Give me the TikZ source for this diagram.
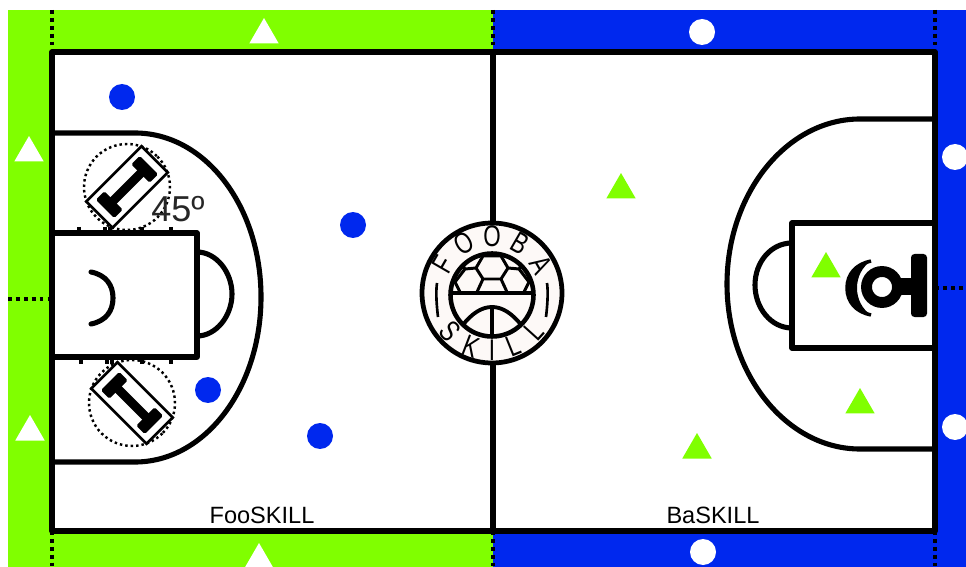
\documentclass[tikz,border=0pt]{standalone}
\usepackage{fontspec}
\setmainfont{Liberation Sans}
\usetikzlibrary{shapes.geometric}
\definecolor{fieldgreen}{HTML}{80FF00}
\definecolor{fieldblue}{HTML}{0028EE}
\definecolor{logofill}{HTML}{FDF9F7}
\tikzset{
  courtline/.style={line width=2.9pt,line join=round},
  boundline/.style={line width=2.2pt,dash pattern=on 2.2pt off 2.3pt},
  trianglepiece/.style={regular polygon,regular polygon sides=3,minimum size=0.68cm,inner sep=0pt,fill=#1},
  roundpiece/.style={circle,minimum size=0.52cm,inner sep=0pt,fill=#1},
  logoletter/.style={inner sep=0pt,font=\fontsize{17}{17}\selectfont},
  pics/robot/.style={code={
    \draw[line width=1.4pt,dash pattern=on 1.4pt off 1.7pt] (0,0) circle (43);
    \draw[line width=1.5pt,fill=white] (-39,-18.5) rectangle (39,18.5);
    \fill[rounded corners=1pt] (-24,-4.5) rectangle (24,4.5);
    \fill[rounded corners=1pt] (-31,-13) rectangle (-19,13);
    \fill[rounded corners=1pt] (19,-13) rectangle (31,13);
  }}
}
\begin{document}
\begin{tikzpicture}[x=0.02cm,y=-0.02cm]
  \useasboundingbox (0,0) rectangle (966,567);
  \clip (0,0) rectangle (966,567);
  \fill[fieldgreen] (8,10) rectangle (493,567);
  \fill[fieldblue] (493,10) rectangle (966,567);
  \fill[white] (52,52) rectangle (935,531);
  % court
  \draw[courtline] (52,52) rectangle (935,531);
  \draw[courtline] (493,52) -- (493,531);
  \draw[courtline] (52,133) -- (135,133) .. controls (205,133) and (261,206) .. (261,297)
    .. controls (261,388) and (205,462) .. (135,462) -- (52,462);
  \draw[courtline] (935,119) -- (860,119) .. controls (787,119) and (727,193) .. (727,284)
    .. controls (727,375) and (787,449) .. (860,449) -- (935,449);
  \draw[courtline] (52,233) -- (197,233) -- (197,357) -- (52,357);
  \draw[courtline] (197,252) .. controls (216,252) and (232,272) .. (232,294)
    .. controls (232,316) and (216,336) .. (197,336);
  \draw[courtline] (935,223) -- (792,223) -- (792,348) -- (935,348);
  \draw[courtline] (792,243) .. controls (771,243) and (755,262) .. (755,285)
    .. controls (755,308) and (771,328) .. (792,328);
  \draw[courtline,line cap=round] (91,272) .. controls (106,275) and (113,285) .. (113,298)
    .. controls (113,311) and (106,321) .. (91,324);
  % zone borders
  \foreach \x in {52,493,935} {
    \draw[boundline] (\x,10) -- (\x,52);
    \draw[boundline] (\x,531) -- (\x,567);
  }
  \draw[boundline] (8,299) -- (52,299);
  \draw[boundline] (935,288) -- (966,288);
  % ticks by the key
  \foreach \x in {79,105,110,142,171} {
    \draw[line width=1.8pt] (\x,227) -- (\x,233);
  }
  \foreach \x in {81,107,112,142,171} {
    \draw[line width=1.8pt] (\x,357) -- (\x,364);
  }
  % pieces
  \foreach \i/\x/\y in {1/264/35,2/29/153,3/30/432,4/259/560} {
    \node[trianglepiece=white] (whitetri\i) at (\x,\y) {};
  }
  \foreach \i/\x/\y in {1/702/32,2/955/157,3/955/427,4/703/552} {
    \node[roundpiece=white] (whitedot\i) at (\x,\y) {};
  }
  \foreach \i/\x/\y in {1/122/97,2/353/225,3/208/390,4/320/436} {
    \node[roundpiece=fieldblue] (bluedot\i) at (\x,\y) {};
  }
  \foreach \i/\x/\y in {1/621/190,2/826/269,3/860/405,4/697/450} {
    \node[trianglepiece=fieldgreen] (greentri\i) at (\x,\y) {};
  }
  % robots
  \pic[rotate=45] at (127,187) {robot};
  \pic[rotate=-45] at (132,403) {robot};
  \fill (871,261) .. controls (856,264) and (847,274) .. (847,288)
    .. controls (847,302) and (856,312) .. (871,315)
    .. controls (862,309) and (857,299) .. (857,288)
    .. controls (857,277) and (862,267) .. (871,261);
  \draw[line width=2pt,line join=round] (871,261) .. controls (856,264) and (847,274) .. (847,288)
    .. controls (847,302) and (856,312) .. (871,315);
  \draw[line width=6.2pt] (882,287) circle (15.5);
  \fill (900,278) rectangle (912,295);
  \fill[rounded corners=2pt] (911,254) rectangle (927,317);
  % logo
  \node[circle,draw,line width=2.7pt,fill=logofill,minimum size=2.8cm,inner sep=0pt] (logo) at (492,293) {};
  \foreach \ltr/\ang in {F/150,O/120,O/90,B/60,A/30} {
    \node[logoletter,rotate=\ang-90] (top\ang) at ([shift={(-\ang:57)}]logo) {\scalebox{0.75}[1]{\ltr}};
  }
  \foreach \ltr/\ang in {S/222,K/249,I/270,L/292,L/318} {
    \node[logoletter,rotate=\ang+90] (low\ang) at ([shift={(-\ang:57)}]logo) {\scalebox{0.75}[1]{\ltr}};
  }
  \draw[line width=1.5pt] (437,283) .. controls (436,290) and (436,300) .. (438,317);
  \draw[line width=1.5pt] (547,283) .. controls (548,290) and (548,300) .. (546,317);
  \begin{scope}
    \clip (492,295) circle (41.5);
    \draw[line width=1.7pt,line join=round]
      (483,256) -- (501,256) -- (508,268) -- (501,279) -- (483,279) -- (476,268) -- cycle
      (483,256) -- (476,250) (501,256) -- (508,250)
      (476,268) -- (465,269) -- (459,259) (508,268) -- (519,269) -- (525,259)
      (465,269) -- (455,282) -- (460,292) (519,269) -- (529,282) -- (524,292)
      (455,282) -- (445,282) (529,282) -- (539,282)
      (483,279) -- (477,292) (501,279) -- (507,292);
    \draw[line width=2.2pt] (450,293) -- (534,293);
    \draw[line width=2.2pt] (462,326) .. controls (472,313) and (482,307) .. (492,307)
      .. controls (502,307) and (512,313) .. (522,326);
    \draw[line width=2.2pt] (492,307) -- (492,340);
  \end{scope}
  \draw[line width=2.6pt] (492,295) circle (41.5);
  % labels
  \node[font=\fontsize{13.4}{13.4}\selectfont] (foolabel) at (262,515) {FooSKILL};
  \node[font=\fontsize{13.4}{13.4}\selectfont] (balabel) at (713,515) {BaSKILL};
  \node[font=\fontsize{20.5}{20.5}\selectfont,text=black!85] (anglelabel) at (178,209) {45º};
\end{tikzpicture}
\end{document}
